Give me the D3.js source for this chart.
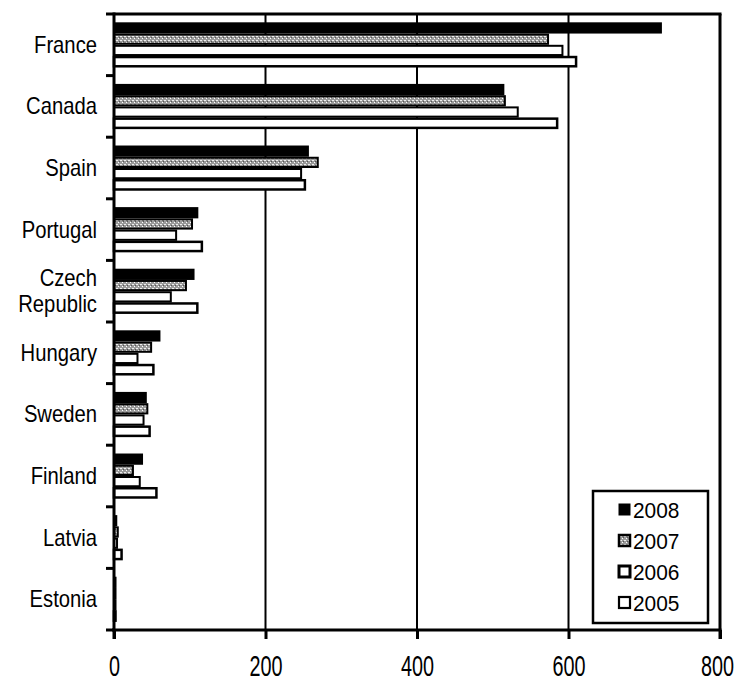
<!DOCTYPE html>
<html>
<head>
<meta charset="utf-8">
<script src="https://cdn.jsdelivr.net/npm/d3@7/dist/d3.min.js"></script>
<style>
  html, body { margin: 0; padding: 0; background: #fff; }
  svg { display: block; font-family: "Liberation Sans", Arial, sans-serif; }
</style>
</head>
<body>
<svg id="chart" width="736" height="682"></svg>
<script>
const categories = ["France", "Canada", "Spain", "Portugal", "Czech Republic", "Hungary", "Sweden", "Finland", "Latvia", "Estonia"];
const seriesNames = ["2008", "2007", "2006", "2005"];
const values2008 = [722, 514, 256, 110, 105, 60, 42, 37, 3, 2];
const values2007 = [573, 516, 269, 103, 95, 49, 44, 25, 5, 2];
const values2006 = [592, 533, 247, 82, 75, 31, 39, 34, 4, 2];
const values2005 = [610, 585, 252, 116, 110, 52, 47, 56, 10, 2];
const xTicks = [0, 200, 400, 600, 800];

(function () {
const seriesValues = [values2008, values2007, values2006, values2005];
const svg = d3.select("#chart");

// pattern for 2007
const defs = svg.append("defs");
const pat = defs.append("pattern").attr("id", "speckle").attr("patternUnits", "userSpaceOnUse")
  .attr("width", 4).attr("height", 4);
pat.append("rect").attr("width", 4).attr("height", 4).attr("fill", "#9a9a9a");
pat.append("rect").attr("x", 0).attr("y", 0).attr("width", 2).attr("height", 1).attr("fill", "#eeeeee");
pat.append("rect").attr("x", 2).attr("y", 2).attr("width", 1).attr("height", 1).attr("fill", "#ffffff");
pat.append("rect").attr("x", 3).attr("y", 1).attr("width", 1).attr("height", 1).attr("fill", "#555");

const fills = ["#000", "url(#speckle)", "#fff", "#fff"];

const pL = 114, pR = 720, pT = 14, pB = 630;
const x = d3.scaleLinear().domain([0, 800]).range([pL, pR]);
const y = d3.scaleBand().domain(categories).range([pT, pB]).paddingInner(0.27).paddingOuter(0.135);
const ySub = d3.scaleBand().domain(seriesNames).range([0, y.bandwidth()]);
const step = y.step();

// gridlines
svg.append("g").selectAll("line").data(xTicks.slice(1, -1)).join("line")
  .attr("x1", d => x(d)).attr("x2", d => x(d)).attr("y1", pT).attr("y2", pB)
  .attr("stroke", "#000").attr("stroke-width", 2);

// bars
const barG = svg.append("g");
seriesNames.forEach((s, si) => {
  barG.append("g").selectAll("rect").data(categories).join("rect")
    .attr("x", x(0))
    .attr("y", (c) => y(c) + ySub(s) + 1)
    .attr("width", (c, i) => Math.max(0.5, x(seriesValues[si][i]) - x(0)))
    .attr("height", ySub.bandwidth() - 2)
    .attr("fill", fills[si])
    .attr("stroke", "#000").attr("stroke-width", si === 3 ? 2.5 : 2);
});

// frame: top and right
svg.append("line").attr("x1", pL).attr("x2", pR + 1.5).attr("y1", pT).attr("y2", pT).attr("stroke", "#000").attr("stroke-width", 3);
svg.append("line").attr("x1", pR).attr("x2", pR).attr("y1", pT).attr("y2", pB + 9).attr("stroke", "#000").attr("stroke-width", 3);

// x axis
const xAxis = d3.axisBottom(x).tickValues(xTicks).tickSize(9).tickFormat(d3.format("d"));
const xg = svg.append("g").attr("transform", `translate(0,${pB})`).call(xAxis);
xg.select(".domain").attr("stroke-width", 3).attr("d", `M${pL - 2},0H${pR + 1.5}`);
xg.selectAll(".tick line").attr("stroke-width", 3);
xg.selectAll(".tick text").remove();
xg.selectAll(".tick").append("text")
  .attr("text-anchor", "middle")
  .attr("transform", (d, i) => `translate(${i === xTicks.length - 1 ? -3 : 0},46) scale(0.66,1)`)
  .attr("fill", "#000").attr("font-size", 30)
  .attr("font-family", "Liberation Sans, Arial, sans-serif")
  .text(d => d);

// y axis
const yg = svg.append("g");
yg.append("line").attr("x1", pL).attr("x2", pL).attr("y1", pT - 1.5).attr("y2", pB + 9).attr("stroke", "#000").attr("stroke-width", 3);
const boundaries = categories.map(c => y(c) - step * y.paddingInner() / 2).concat([pB]);
yg.selectAll("line.tk").data(boundaries).join("line").attr("class", "tk")
  .attr("x1", pL - 8).attr("x2", pL).attr("y1", d => d).attr("y2", d => d)
  .attr("stroke", "#000").attr("stroke-width", 3);

const labelG = svg.append("g");
categories.forEach(c => {
  const cy = y(c) + y.bandwidth() / 2;
  const words = c.split(" ");
  const t = labelG.append("text")
    .attr("text-anchor", "end")
    .attr("transform", `translate(97,${cy}) scale(0.88,1)`)
    .attr("font-size", 23).attr("fill", "#000");
  if (words.length === 1) {
    t.append("tspan").attr("x", 0).attr("dy", "0.35em").text(c);
  } else {
    t.append("tspan").attr("x", 0).attr("dy", "-0.22em").text(words[0]);
    t.append("tspan").attr("x", 0).attr("dy", "1.13em").text(words[1]);
  }
});

// legend
const lg = svg.append("g");
lg.append("rect").attr("x", 593).attr("y", 491).attr("width", 115).attr("height", 132)
  .attr("fill", "#fff").attr("stroke", "#000").attr("stroke-width", 2.5);
const legendY = d3.scalePoint().domain(seriesNames).range([510, 603]);
seriesNames.forEach((s, si) => {
  const cy = legendY(s);
  const sw = (si === 0) ? 1 : (si === 1 ? 2.5 : (si === 2 ? 3 : 2.2));
  lg.append("rect").attr("x", 619).attr("y", cy - 6).attr("width", 11).attr("height", 11)
    .attr("fill", fills[si]).attr("stroke", "#000").attr("stroke-width", sw);
  lg.append("text").attr("transform", `translate(633,${cy}) scale(0.95,1)`)
    .attr("dy", "0.36em").attr("font-size", 22).attr("fill", "#000").text(s);
});
})();
</script>
</body>
</html>
